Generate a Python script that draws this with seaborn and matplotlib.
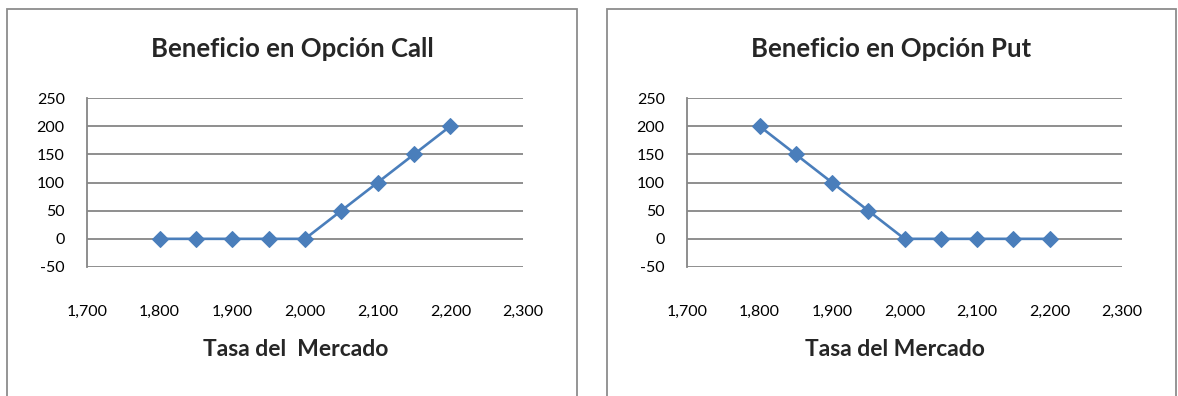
import matplotlib
matplotlib.use("Agg")
import matplotlib.pyplot as plt
import seaborn as sns
import pandas as pd
from matplotlib.patches import Rectangle

# Market rate and option payoff values
tasa = [1800, 1850, 1900, 1950, 2000, 2050, 2100, 2150, 2200]
beneficio_call = [0, 0, 0, 0, 0, 50, 100, 150, 200]
beneficio_put = [200, 150, 100, 50, 0, 0, 0, 0, 0]
x_ticks = [1700, 1800, 1900, 2000, 2100, 2200, 2300]
y_ticks = [-50, 0, 50, 100, 150, 200, 250]

titles = ["Beneficio en Opción Call", "Beneficio en Opción Put"]
xlabels = ["Tasa del  Mercado", "Tasa del Mercado"]

sns.set_theme(style="white")
plt.rcParams["font.family"] = ["Lato", "DejaVu Sans"]

W, H = 1178, 396
fig = plt.figure(figsize=(W / 100, H / 100), dpi=100)
fig.patch.set_facecolor("white")

BLUE = "#4A7EBB"
GRID = "#868686"

# chart frames (left, right, top in pixels) and plot areas (left, right, top, bottom)
frames = [(7, 577, 9), (607, 1176, 9)]
areas = [(87, 523, 98, 267), (687, 1122, 98, 267)]
series = [beneficio_call, beneficio_put]

for (fl, fr, ft), (al, ar, at, ab), vals, title, xl in zip(frames, areas, series, titles, xlabels):
    fig.patches.append(Rectangle((fl / W, -0.05), (fr - fl) / W, (H - ft) / H + 0.05,
                                 transform=fig.transFigure, fill=False,
                                 edgecolor="#8C8C8C", linewidth=1.3))
    ax = fig.add_axes([al / W, 1 - ab / H, (ar - al) / W, (ab - at) / H])
    df = pd.DataFrame({"tasa": tasa, "beneficio": vals})
    sns.lineplot(data=df, x="tasa", y="beneficio", ax=ax, color=BLUE,
                 linewidth=1.9, marker="D", markersize=8,
                 markeredgecolor=BLUE, markerfacecolor=BLUE, zorder=3)
    ax.set_xlim(1700, 2300)
    ax.set_ylim(-50, 250)
    ax.set_xticks(x_ticks)
    ax.set_xticklabels([f"{v:,}" for v in x_ticks])
    ax.set_yticks(y_ticks)
    ax.set_yticklabels([str(v) for v in y_ticks])
    ax.tick_params(axis="both", length=0, labelsize=11.5, colors="black")
    ax.tick_params(axis="x", pad=27)
    ax.tick_params(axis="y", pad=16)
    ax.yaxis.grid(True, color=GRID, linewidth=1.3)
    ax.xaxis.grid(False)
    for s in ["top", "right", "bottom"]:
        ax.spines[s].set_visible(False)
    ax.spines["left"].set_color(GRID)
    ax.spines["left"].set_linewidth(1.3)
    ax.set_xlabel("")
    ax.set_ylabel("")
    fig.text((fl + fr) / 2 / W, 1 - 49 / H, title, ha="center", va="center",
             fontsize=18.5, fontweight="bold")
    fig.text((al + ar) / 2 / W - 0.008, 1 - 350 / H, xl, ha="center", va="center",
             fontsize=16.5, fontweight="bold")

fig.savefig("out.png", dpi=100)
